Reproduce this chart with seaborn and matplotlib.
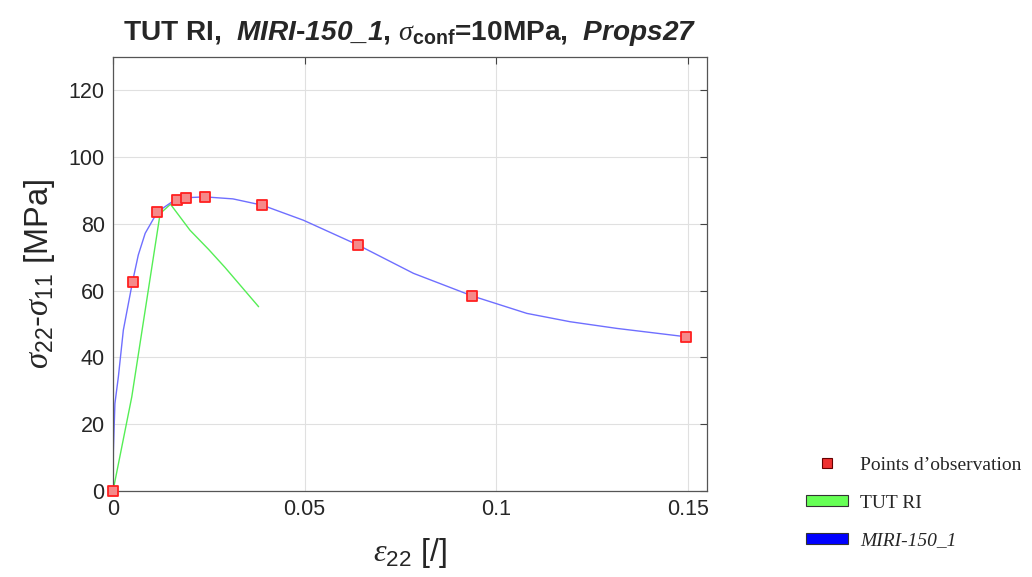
import matplotlib
matplotlib.use("Agg")
import matplotlib.pyplot as plt
import seaborn as sns
import pandas as pd
from matplotlib.lines import Line2D
from matplotlib.patches import Patch

# ---- data ----
obs_eps = [0.0, 0.0051, 0.0116, 0.0167, 0.0190, 0.0240, 0.0390, 0.0639, 0.0938, 0.1495]
obs_sig = [0.0, 62.7, 83.6, 87.3, 87.8, 88.0, 85.6, 73.7, 58.4, 46.2]

tut_eps = [0.0, 0.0049, 0.0123, 0.0150, 0.0201, 0.0250, 0.0292, 0.0380]
tut_sig = [0.0, 28.2, 83.1, 85.9, 78.1, 72.3, 67.0, 55.2]

miri_eps = [0.0, 0.0001, 0.0005, 0.0014, 0.0027, 0.0051, 0.0066, 0.0084, 0.0116,
            0.0164, 0.0200, 0.0240, 0.0313, 0.0390, 0.0497, 0.0639, 0.0784,
            0.0938, 0.1080, 0.1193, 0.1315, 0.1495]
miri_sig = [0.0, 12.0, 26.2, 34.2, 48.2, 62.7, 70.7, 77.2, 83.6,
            87.4, 87.9, 88.1, 87.5, 85.6, 81.1, 73.7, 65.2,
            58.4, 53.2, 50.7, 48.7, 46.2]

x_ticks = [0, 0.05, 0.1, 0.15]
x_tick_labels = ["0", "0.05", "0.1", "0.15"]
y_ticks = [0, 20, 40, 60, 80, 100, 120]

legend_labels = ["Points d\u2019observation", "TUT RI", "MIRI-150_1"]

# ---- style ----
sns.set_style("white")
plt.rcParams["font.family"] = ["Liberation Sans", "DejaVu Sans"]
plt.rcParams["mathtext.fontset"] = "custom"
plt.rcParams["mathtext.rm"] = "Liberation Sans:bold:italic"
plt.rcParams["mathtext.bf"] = "Liberation Sans:bold"
plt.rcParams["mathtext.it"] = "Liberation Sans:bold:italic"
plt.rcParams["mathtext.sf"] = "Liberation Sans"
plt.rcParams["mathtext.cal"] = "Liberation Serif:italic"

fig = plt.figure(figsize=(10.32, 5.77), dpi=100)
ax = fig.add_axes([113 / 1032, 1 - 491 / 577, (707 - 113) / 1032, (491 - 57) / 577])

df_tut = pd.DataFrame({"eps": tut_eps, "sig": tut_sig})
df_miri = pd.DataFrame({"eps": miri_eps, "sig": miri_sig})
df_obs = pd.DataFrame({"eps": obs_eps, "sig": obs_sig})

sns.lineplot(data=df_tut, x="eps", y="sig", ax=ax, color="#55ee55", lw=1.0,
             sort=False, estimator=None)
sns.lineplot(data=df_miri, x="eps", y="sig", ax=ax, color="#6f6fff", lw=1.0,
             sort=False, estimator=None)
sns.scatterplot(data=df_obs, x="eps", y="sig", ax=ax, marker="s", s=44,
                color="#f58a8a", edgecolor="#ff2020", linewidth=1.3, zorder=5,
                clip_on=False)

ax.set_xlim(0, 0.155)
ax.set_ylim(0, 130)
ax.set_xticks(x_ticks)
ax.set_xticklabels(x_tick_labels)
ax.set_yticks(y_ticks)
ax.grid(True, color="#e0e0e0", lw=0.8)
ax.set_axisbelow(True)
for s in ax.spines.values():
    s.set_color("#555555")
    s.set_linewidth(0.9)
ax.tick_params(axis="both", direction="in", length=5, width=0.8, color="#444444",
               labelsize=15.5, labelcolor="#262626", top=True, right=True, pad=6)

ax.set_xlabel(r"$\mathcal{\epsilon}_{\mathsf{22}}$ [/]", fontsize=23, color="#262626",
              labelpad=11)
ax.set_ylabel(r"$\mathcal{\sigma}_{\mathsf{22}}$-$\mathcal{\sigma}_{\mathsf{11}}$ [MPa]",
              fontsize=23.5, color="#262626", labelpad=8)
ax.set_title(r"TUT RI,  $\mathrm{MIRI}$-$\mathrm{150\_1}$, $\mathcal{\sigma}_{\mathbf{conf}}$=10MPa,  $\mathrm{Props27}$",
             fontsize=20.2, fontweight="bold", pad=12)

handles = [
    Line2D([], [], marker="s", ls="none", markersize=7.5, markerfacecolor="#ee3030",
           markeredgecolor="#660000", markeredgewidth=0.8),
    Patch(facecolor="#66ff55", edgecolor="#333333", linewidth=0.8),
    Patch(facecolor="#0000ff", edgecolor="#333333", linewidth=0.8),
]
leg = fig.legend(handles, legend_labels, loc="lower left",
                 bbox_to_anchor=(788 / 1032, 1 - 567 / 577), frameon=False,
                 prop={"family": "Liberation Serif", "size": 14},
                 handlelength=2.2, handleheight=0.45, labelspacing=1.08,
                 handletextpad=0.6)
leg.get_texts()[2].set_fontstyle("italic")

fig.savefig("out.png", dpi=100)
